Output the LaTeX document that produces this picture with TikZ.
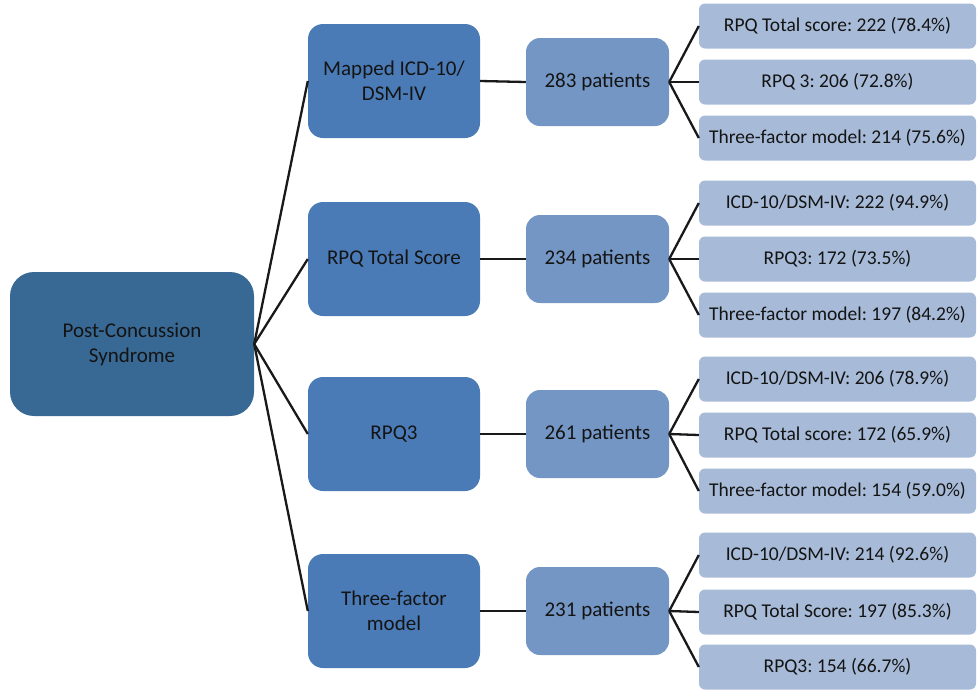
\documentclass[tikz,border=0pt]{standalone}
\usepackage{fontspec}
\setmainfont{Carlito}
\frenchspacing
\definecolor{rootblue}{RGB}{56,104,148}
\definecolor{critblue}{RGB}{74,123,183}
\definecolor{countblue}{RGB}{116,150,196}
\definecolor{resblue}{RGB}{167,187,216}
\definecolor{txt}{RGB}{20,20,20}
\begin{document}
\begin{tikzpicture}[x=1pt,y=-1pt,
  every node/.style={font=\fontsize{21}{25}\selectfont, text=txt, align=center, inner sep=0pt},
  rootbox/.style={fill=rootblue, rounded corners=24pt, minimum width=244pt, minimum height=144pt},
  critbox/.style={fill=critblue, rounded corners=15pt, minimum width=172pt, minimum height=114pt},
  countbox/.style={fill=countblue, rounded corners=14pt, minimum width=143pt, minimum height=88pt},
  resbox/.style={fill=resblue, rounded corners=6pt, minimum width=277pt, minimum height=45pt, font=\fontsize{19.5}{22}\selectfont},
  link/.style={draw=black!90, line width=2.3pt}]
\useasboundingbox (0,0) rectangle (978,689);

% root
\node[rootbox] (root) at (132,344) {Post-Concussion\\Syndrome};

% criteria
\node[critbox] (c1) at (394,81)  {Mapped ICD-10/\\DSM-IV};
\node[critbox] (c2) at (394,259) {RPQ Total Score};
\node[critbox] (c3) at (394,434) {RPQ3};
\node[critbox] (c4) at (394,611) {Three-factor\\model};

% patient counts
\node[countbox] (n1) at (597.5,82)  {283 patients};
\node[countbox] (n2) at (597.5,259) {234 patients};
\node[countbox] (n3) at (597.5,434) {261 patients};
\node[countbox] (n4) at (597.5,611) {231 patients};

% overlaps
\node[resbox] (r11) at (837.5,26)  {RPQ Total score: 222 (78.4\%)};
\node[resbox] (r12) at (837.5,82)  {RPQ 3: 206 (72.8\%)};
\node[resbox] (r13) at (837.5,138) {Three-factor model: 214 (75.6\%)};

\node[resbox] (r21) at (837.5,203) {ICD-10/DSM-IV: 222 (94.9\%)};
\node[resbox] (r22) at (837.5,259) {RPQ3: 172 (73.5\%)};
\node[resbox] (r23) at (837.5,315) {Three-factor model: 197 (84.2\%)};

\node[resbox] (r31) at (837.5,379) {ICD-10/DSM-IV: 206 (78.9\%)};
\node[resbox] (r32) at (837.5,435) {RPQ Total score: 172 (65.9\%)};
\node[resbox] (r33) at (837.5,491) {Three-factor model: 154 (59.0\%)};

\node[resbox] (r41) at (837.5,555) {ICD-10/DSM-IV: 214 (92.6\%)};
\node[resbox] (r42) at (837.5,612) {RPQ Total Score: 197 (85.3\%)};
\node[resbox] (r43) at (837.5,667) {RPQ3: 154 (66.7\%)};

% connectors
\foreach \i in {1,...,4} {
  \draw[link] (root.east) -- (c\i.west);
  \draw[link] (c\i.east) -- (n\i.west);
  \foreach \j in {1,2,3} {
    \draw[link] (n\i.east) -- (r\i\j.west);
  }
}
\end{tikzpicture}
\end{document}
